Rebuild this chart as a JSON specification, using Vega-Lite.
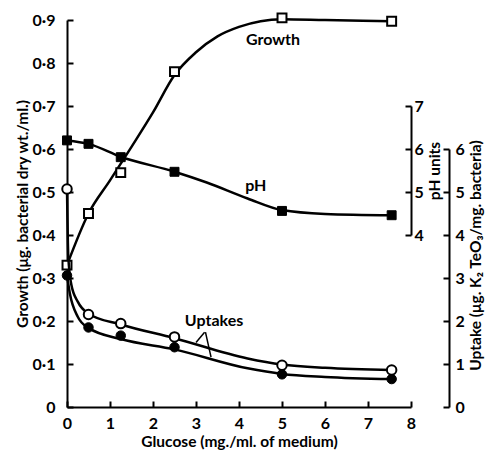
{
  "$schema": "https://vega.github.io/schema/vega-lite/v6.json",
  "width": 344,
  "height": 387,
  "autosize": {"type": "none"},
  "padding": {"left": 67, "top": 20, "right": 74, "bottom": 47},
  "background": "white",
  "config": {
    "view": {"stroke": null},
    "font": "Lato",
    "axis": {
      "domainColor": "black", "domainWidth": 2,
      "tickColor": "black", "tickWidth": 2, "tickSize": -6,
      "labelFont": "Lato", "labelFontWeight": "bold", "labelFontSize": 16, "labelColor": "black",
      "titleFont": "Lato", "titleFontWeight": "bold", "titleFontSize": 15.5, "titleColor": "black",
      "grid": false, "labelFlush": false, "labelOverlap": false
    },
    "text": {"font": "Lato", "fontWeight": "bold", "fontSize": 16, "color": "black"}
  },
  "datasets": {
    "growth_pts": [
      {"glucose": 0, "growth": 0.33}, {"glucose": 0.5, "growth": 0.45}, {"glucose": 1.25, "growth": 0.545},
      {"glucose": 2.5, "growth": 0.78}, {"glucose": 5, "growth": 0.905}, {"glucose": 7.55, "growth": 0.897}
    ],
    "growth_curve": [
      {"glucose": 0, "growth": 0.33}, {"glucose": 0.5, "growth": 0.45}, {"glucose": 1.0, "growth": 0.527},
      {"glucose": 1.5, "growth": 0.605}, {"glucose": 2.0, "growth": 0.685}, {"glucose": 2.5, "growth": 0.772},
      {"glucose": 3.0, "growth": 0.825}, {"glucose": 3.5, "growth": 0.862}, {"glucose": 4.0, "growth": 0.884},
      {"glucose": 5, "growth": 0.902}, {"glucose": 6, "growth": 0.9}, {"glucose": 7.55, "growth": 0.897}
    ],
    "growth_label": [{"glucose": 4.79, "growth": 0.853, "label": "Growth"}],
    "ph_pts": [
      {"glucose": 0, "pH": 6.2}, {"glucose": 0.5, "pH": 6.12}, {"glucose": 1.25, "pH": 5.81},
      {"glucose": 2.5, "pH": 5.47}, {"glucose": 5, "pH": 4.56}, {"glucose": 7.55, "pH": 4.46}
    ],
    "ph_curve": [
      {"glucose": 0, "pH": 6.2}, {"glucose": 0.5, "pH": 6.12}, {"glucose": 1.25, "pH": 5.82},
      {"glucose": 2.5, "pH": 5.47}, {"glucose": 3.25, "pH": 5.22}, {"glucose": 4.2, "pH": 4.85},
      {"glucose": 5, "pH": 4.58}, {"glucose": 6, "pH": 4.49}, {"glucose": 7.55, "pH": 4.46}
    ],
    "ph_label": [{"glucose": 4.39, "pH": 5.14, "label": "pH"}],
    "uptake_pts": [
      {"glucose": 0, "uptake": 5.07, "kind": "open"}, {"glucose": 0.5, "uptake": 2.15, "kind": "open"},
      {"glucose": 1.25, "uptake": 1.94, "kind": "open"}, {"glucose": 2.5, "uptake": 1.63, "kind": "open"},
      {"glucose": 5, "uptake": 0.97, "kind": "open"}, {"glucose": 7.55, "uptake": 0.86, "kind": "open"},
      {"glucose": 0, "uptake": 3.06, "kind": "filled"}, {"glucose": 0.5, "uptake": 1.85, "kind": "filled"},
      {"glucose": 1.25, "uptake": 1.66, "kind": "filled"}, {"glucose": 2.5, "uptake": 1.39, "kind": "filled"},
      {"glucose": 5, "uptake": 0.76, "kind": "filled"}, {"glucose": 7.55, "uptake": 0.65, "kind": "filled"}
    ],
    "uptake_curve": [
      {"glucose": 0, "uptake": 5.07, "kind": "open"}, {"glucose": 0.03, "uptake": 3.5, "kind": "open"},
      {"glucose": 0.1, "uptake": 2.85, "kind": "open"}, {"glucose": 0.25, "uptake": 2.45, "kind": "open"},
      {"glucose": 0.5, "uptake": 2.17, "kind": "open"}, {"glucose": 1.25, "uptake": 1.92, "kind": "open"},
      {"glucose": 2.5, "uptake": 1.6, "kind": "open"}, {"glucose": 4.2, "uptake": 1.13, "kind": "open"},
      {"glucose": 5, "uptake": 0.99, "kind": "open"}, {"glucose": 6, "uptake": 0.91, "kind": "open"},
      {"glucose": 7.55, "uptake": 0.86, "kind": "open"},
      {"glucose": 0, "uptake": 3.06, "kind": "filled"}, {"glucose": 0.07, "uptake": 2.62, "kind": "filled"},
      {"glucose": 0.25, "uptake": 2.1, "kind": "filled"}, {"glucose": 0.5, "uptake": 1.84, "kind": "filled"},
      {"glucose": 1.25, "uptake": 1.58, "kind": "filled"}, {"glucose": 2.5, "uptake": 1.34, "kind": "filled"},
      {"glucose": 4.2, "uptake": 0.9, "kind": "filled"}, {"glucose": 5, "uptake": 0.77, "kind": "filled"},
      {"glucose": 6, "uptake": 0.7, "kind": "filled"}, {"glucose": 7.55, "uptake": 0.65, "kind": "filled"}
    ],
    "uptake_label": [{"glucose": 3.42, "uptake": 1.99, "label": "Uptakes"}],
    "arrows": [
      {"glucose": 3.2, "uptake": 1.74, "glucose2": 3.0, "uptake2": 1.5},
      {"glucose": 3.22, "uptake": 1.74, "glucose2": 3.35, "uptake2": 1.16}
    ]
  },
  "encoding": {
    "x": {
      "field": "glucose", "type": "quantitative",
      "scale": {"domain": [0, 8], "nice": false, "zero": false},
      "axis": {
        "orient": "bottom", "values": [0, 1, 2, 3, 4, 5, 6, 7, 8], "labelPadding": 14,
        "title": "Glucose (mg./ml. of medium)", "titlePadding": 3
      }
    }
  },
  "layer": [
    {
      "encoding": {
        "y": {
          "field": "growth", "type": "quantitative",
          "scale": {"domain": [0, 0.9], "nice": false, "zero": false},
          "axis": {
            "orient": "left", "values": [0, 0.1, 0.2, 0.3, 0.4, 0.5, 0.6, 0.7, 0.8, 0.9],
            "labelExpr": "datum.value === 0 ? '0' : replace(format(datum.value, '.1f'), '.', '·')",
            "labelPadding": 18, "title": "Growth (μg. bacterial dry wt./ml.)", "titlePadding": 2
          }
        }
      },
      "layer": [
        {"data": {"name": "growth_curve"}, "mark": {"type": "line", "interpolate": "monotone", "color": "black", "strokeWidth": 2.5}},
        {"data": {"name": "growth_pts"}, "mark": {"type": "point", "shape": "square", "filled": true, "fill": "white", "stroke": "black", "strokeWidth": 2, "size": 80, "opacity": 1}},
        {"data": {"name": "growth_label"}, "mark": {"type": "text", "align": "center", "baseline": "middle"}, "encoding": {"text": {"field": "label"}}}
      ]
    },
    {
      "encoding": {
        "y": {
          "field": "pH", "type": "quantitative",
          "scale": {"domain": [4, 7], "range": [215, 86], "nice": false, "zero": false},
          "axis": {
            "orient": "right", "offset": 0, "values": [4, 5, 6, 7], "labelPadding": 9,
            "title": "pH units", "titleAngle": 270, "titlePadding": 19
          }
        }
      },
      "layer": [
        {"data": {"name": "ph_curve"}, "mark": {"type": "line", "interpolate": "monotone", "color": "black", "strokeWidth": 2.5}},
        {"data": {"name": "ph_pts"}, "mark": {"type": "point", "shape": "square", "filled": true, "fill": "black", "stroke": "black", "strokeWidth": 1, "size": 80, "opacity": 1}},
        {"data": {"name": "ph_label"}, "mark": {"type": "text", "align": "center", "baseline": "middle"}, "encoding": {"text": {"field": "label"}}}
      ]
    },
    {
      "encoding": {
        "y": {
          "field": "uptake", "type": "quantitative",
          "scale": {"domain": [0, 6], "range": [387, 129], "nice": false, "zero": false},
          "axis": {
            "orient": "right", "offset": 38, "values": [0, 1, 2, 3, 4, 5, 6], "labelPadding": 12,
            "title": "Uptake (μg. K₂ TeO₃/mg. bacteria)", "titleAngle": 270, "titlePadding": 19, "titleY": 235
          }
        }
      },
      "layer": [
        {"data": {"name": "uptake_curve"}, "mark": {"type": "line", "interpolate": "monotone", "color": "black", "strokeWidth": 2.5}, "encoding": {"detail": {"field": "kind"}}},
        {"data": {"name": "arrows"}, "mark": {"type": "rule", "color": "black", "strokeWidth": 1.5}, "encoding": {"x2": {"field": "glucose2"}, "y2": {"field": "uptake2"}}},
        {"data": {"name": "uptake_pts"}, "transform": [{"filter": "datum.kind === 'filled'"}], "mark": {"type": "point", "shape": "circle", "filled": true, "fill": "black", "stroke": "black", "strokeWidth": 1, "size": 90, "opacity": 1}},
        {"data": {"name": "uptake_pts"}, "transform": [{"filter": "datum.kind === 'open'"}], "mark": {"type": "point", "shape": "circle", "filled": true, "fill": "white", "stroke": "black", "strokeWidth": 2, "size": 90, "opacity": 1}},
        {"data": {"name": "uptake_label"}, "mark": {"type": "text", "align": "center", "baseline": "middle"}, "encoding": {"text": {"field": "label"}}}
      ]
    }
  ],
  "resolve": {"scale": {"y": "independent"}, "axis": {"y": "independent"}}
}
